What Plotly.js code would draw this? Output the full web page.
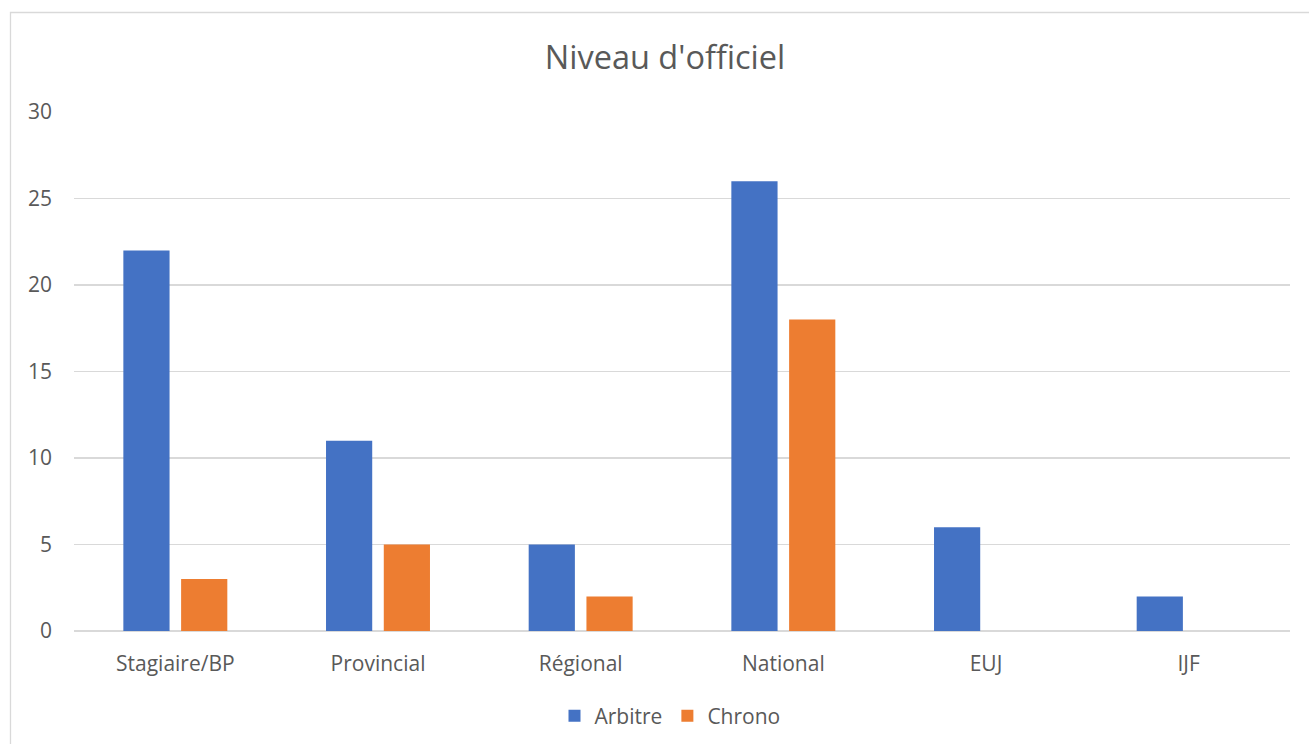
<!DOCTYPE html>
<html>
<head>
<meta charset="utf-8">
<script src="https://cdn.plot.ly/plotly-3.0.1.min.js"></script>
<style>
html,body{margin:0;padding:0;background:#fff;}
#chart{width:1309px;height:744px;}
</style>
</head>
<body>
<div id="chart"></div>
<script>
const categories = ["Stagiaire/BP", "Provincial", "Régional", "National", "EUJ", "IJF"];
const arbitre = [22, 11, 5, 26, 6, 2];
const chrono = [3, 5, 2, 18, 0, 0];
const seriesNames = ["Arbitre", "Chrono"];
const yTicks = [0, 5, 10, 15, 20, 25, 30];

const FONT = "'Open Sans', Lato, sans-serif";
const TS = 21;
const traces = [
  {type: "bar", name: seriesNames[0], x: categories, y: arbitre, marker: {color: "#4472C4"}, hoverinfo: "y"},
  {type: "bar", name: seriesNames[1], x: categories, y: chrono, marker: {color: "#ED7D31"}, hoverinfo: "y"}
];

const layout = {
  width: 1309, height: 744,
  margin: {l: 74, r: 19, t: 112, b: 113, autoexpand: false},
  paper_bgcolor: "#fff", plot_bgcolor: "#fff",
  font: {family: FONT, color: "#595959", size: TS},
  title: {text: "Niveau d'officiel", font: {family: FONT, size: 32.5, color: "#595959"}, x: 665/1309, xanchor: "center", xref: "container", y: 1 - 58/744, yanchor: "middle"},
  barmode: "group",
  bargap: 0.43,
  bargroupgap: 0.2,
  xaxis: {
    type: "category", showgrid: false, zeroline: false, showline: false, automargin: false,
    ticks: "", ticklabelstandoff: 18, tickfont: {family: FONT, size: TS, color: "#595959"}
  },
  yaxis: {
    range: [0, 30], tickvals: yTicks, showgrid: true, gridcolor: "#D9D9D9", gridwidth: 1.3, automargin: false,
    zeroline: true, zerolinecolor: "#D9D9D9", zerolinewidth: 1.3, showline: false,
    ticks: "", ticklabelstandoff: 21, tickfont: {family: FONT, size: TS, color: "#595959"}
  },
  showlegend: true,
  legend: {orientation: "h", x: 0.5 + (670-682)/1216, xanchor: "center", y: (631-716)/519, yanchor: "middle",
    font: {family: FONT, size: TS, color: "#595959"}, itemwidth: 30, traceorder: "normal"},
  shapes: [{type: "rect", xref: "paper", yref: "paper",
    x0: (10.5-74)/1216, x1: 1.1, y0: -0.3, y1: (631-12.5)/519,
    line: {color: "#D9D9D9", width: 1.3}, fillcolor: "rgba(0,0,0,0)", layer: "below"}]
};

Plotly.newPlot("chart", traces, layout, {displayModeBar: false, staticPlot: true});
</script>
</body>
</html>
